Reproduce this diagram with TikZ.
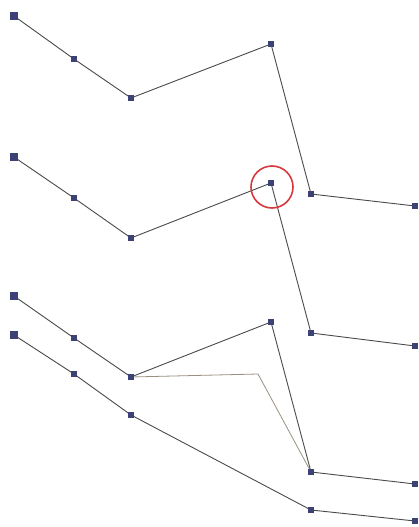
\documentclass[tikz,border=0pt]{standalone}
\usetikzlibrary{calc}
\definecolor{mk}{HTML}{3C4275}
\definecolor{ln}{HTML}{4A4A4A}
\definecolor{faint}{HTML}{9A9080}
\definecolor{ring}{HTML}{D8383C}
\tikzset{
  pt/.style={fill=mk,draw=none,inner sep=0pt,minimum size=5.5pt,rectangle},
  bigpt/.style={pt,minimum size=8pt},
  wire/.style={draw=ln,line width=0.9pt},
  fwire/.style={draw=faint,line width=0.8pt},
}
\begin{document}
\begin{tikzpicture}[x=1pt,y=-1pt]
\useasboundingbox[fill=white] (0,0) rectangle (419,527);
% polyline 1
\coordinate (a1) at (14,16); \coordinate (a2) at (74,59); \coordinate (a3) at (131,98);
\coordinate (a4) at (271,44); \coordinate (a5) at (311,194); \coordinate (a6) at (415,206);
% polyline 2
\coordinate (b1) at (14,157); \coordinate (b2) at (74,198); \coordinate (b3) at (131,238);
\coordinate (b4) at (271,183); \coordinate (b5) at (311,333); \coordinate (b6) at (415,346);
% polyline 3
\coordinate (c1) at (14,296); \coordinate (c2) at (74,338); \coordinate (c3) at (131,377);
\coordinate (c4) at (271,322); \coordinate (c5) at (311,472); \coordinate (c6) at (415,484);
\coordinate (ck) at (258,374);
% polyline 4
\coordinate (d1) at (14,335); \coordinate (d2) at (74,374); \coordinate (d3) at (131,415);
\coordinate (d5) at (311,510); \coordinate (d6) at (415,521);

\draw[fwire] (c3) -- (ck) -- (c5);
\draw[wire] (a1) -- (a2) -- (a3) -- (a4) -- (a5) -- (a6);
\draw[wire] (b1) -- (b2) -- (b3) -- (b4) -- (b5) -- (b6);
\draw[wire] (c1) -- (c2) -- (c3) -- (c4) -- (c5) -- (c6);
\draw[wire] (d1) -- (d2) -- (d3) -- (d5) -- (d6);

\foreach \p in {a1,b1,c1,d1} \node[bigpt] (n\p) at (\p) {};
\foreach \p in {a2,a3,a4,a5,a6,b2,b3,b4,b5,b6,c2,c3,c4,c5,c6,d2,d3,d5,d6} \node[pt] (n\p) at (\p) {};

\node[draw=ring,line width=1.6pt,circle,minimum size=42pt,inner sep=0pt] (ringnode) at (272,187) {};
\end{tikzpicture}
\end{document}
